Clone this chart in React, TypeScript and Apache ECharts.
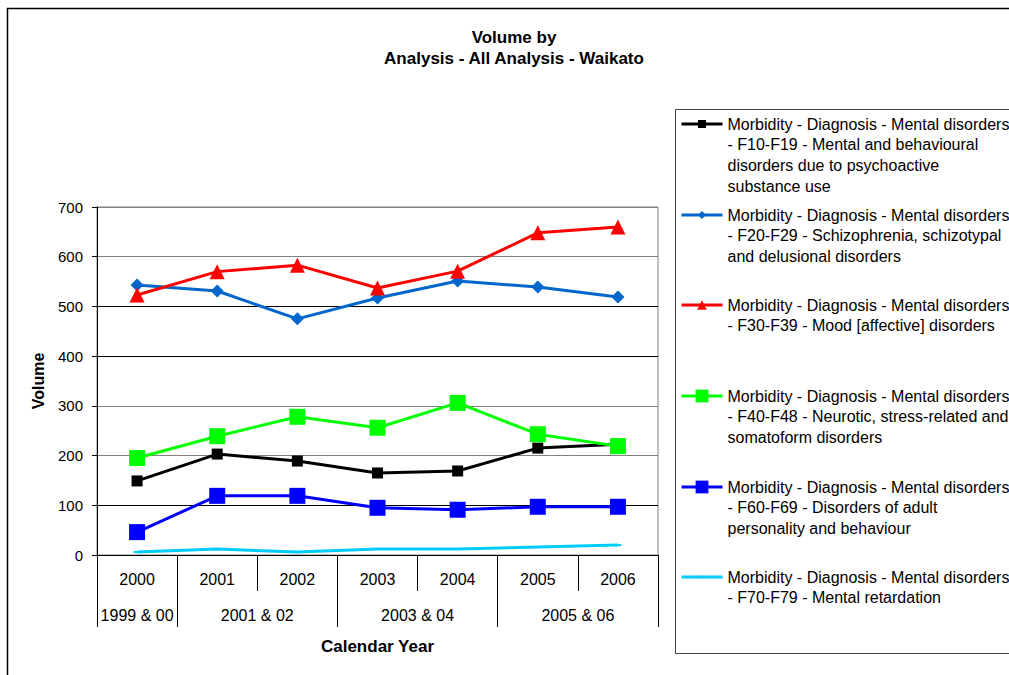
import React, { useEffect, useRef } from 'react';
import * as echarts from 'echarts';

const years = ['2000', '2001', '2002', '2003', '2004', '2005', '2006'];
const yearGroups = ['1999 & 00', '2001 & 02', '2003 & 04', '2005 & 06'];
const groupSpans = [1, 2, 2, 2];

const f10 = [149, 203, 189, 165, 169, 215, 223];
const f20 = [543, 531, 475, 517, 551, 539, 519];
const f30 = [523, 570, 583, 537, 571, 648, 660];
const f40 = [195, 239, 278, 256, 306, 243, 219];
const f60 = [46, 119, 119, 95, 91, 97, 97];
const f70 = [6, 12, 6, 12, 12, 16, 20];

const name1 = ['Morbidity - Diagnosis - Mental disorders', '- F10-F19 - Mental and behavioural', 'disorders due to psychoactive', 'substance use'];
const name2 = ['Morbidity - Diagnosis - Mental disorders', '- F20-F29 - Schizophrenia, schizotypal', 'and delusional disorders'];
const name3 = ['Morbidity - Diagnosis - Mental disorders', '- F30-F39 - Mood [affective] disorders'];
const name4 = ['Morbidity - Diagnosis - Mental disorders', '- F40-F48 - Neurotic, stress-related and', 'somatoform disorders'];
const name5 = ['Morbidity - Diagnosis - Mental disorders', '- F60-F69 - Disorders of adult', 'personality and behaviour'];
const name6 = ['Morbidity - Diagnosis - Mental disorders', '- F70-F79 - Mental retardation'];

const FONT = "'Liberation Sans', Arial, sans-serif";

export default function App() {
  const ref = useRef<HTMLDivElement>(null);
  useEffect(() => {
    if (!ref.current) return;
    const chart = echarts.init(ref.current, undefined, { renderer: 'svg' });

    // half-slot axis for group labels
    const halfData: string[] = new Array(years.length * 2 + 1).fill('');
    const tickSet = new Set<number>();
    const labelSet = new Set<number>();
    let start = 0;
    yearGroups.forEach((g, i) => {
      const w = groupSpans[i];
      tickSet.add(2 * start);
      halfData[2 * start + w] = g;
      labelSet.add(2 * start + w);
      start += w;
    });
    tickSet.add(2 * start);

    const seriesDefs = [
      { lines: name1, data: f10, color: '#000000', symbol: 'rect', size: 11, ih: 10, yc: 124 },
      { lines: name2, data: f20, color: '#0066CC', symbol: 'diamond', size: 13, ih: 10, yc: 215 },
      { lines: name3, data: f30, color: '#FF0000', symbol: 'triangle', size: 15, ih: 12, yc: 305 },
      { lines: name4, data: f40, color: '#00FF00', symbol: 'rect', size: 16, ih: 16, yc: 396 },
      { lines: name5, data: f60, color: '#0000FF', symbol: 'rect', size: 16, ih: 16, yc: 487 },
      { lines: name6, data: f70, color: '#00CCFF', symbol: 'rect', size: [7, 2], ih: 3, yc: 577 },
    ];
    const L = 20.7;

    chart.setOption({
      animation: false,
      backgroundColor: '#ffffff',
      textStyle: { fontFamily: FONT },
      title: {
        text: 'Volume by\nAnalysis - All Analysis - Waikato',
        left: 514,
        top: 27,
        textAlign: 'center',
        padding: 0,
        textStyle: { fontSize: 17, fontWeight: 'bold', lineHeight: 21, color: '#000', fontFamily: FONT },
      },
      grid: {
        left: 97, top: 207, right: 351, bottom: 120,
        show: true, borderColor: '#808080', borderWidth: 1, containLabel: false,
      },
      legend: seriesDefs.map((s) => {
        const n = s.lines.length;
        return {
          data: [s.lines.join('\n')],
          formatter: (name: string) => '\n'.repeat(n - 1) + name,
          left: 680,
          top: s.yc - ((2 * n - 1) * L) / 2,
          orient: 'vertical',
          padding: 0,
          itemGap: 0,
          itemWidth: 41,
          itemHeight: s.ih,
          selectedMode: false,
          lineStyle: { width: 3 },
          textStyle: { fontSize: 16, lineHeight: L, color: '#000', fontFamily: FONT },
        };
      }),
      xAxis: [
        {
          type: 'category',
          data: years,
          boundaryGap: true,
          position: 'bottom',
          axisLine: { show: true, lineStyle: { color: '#000', width: 1 } },
          axisTick: { show: true, length: 36, lineStyle: { color: '#000' } },
          axisLabel: { fontSize: 16, color: '#000', margin: 16, fontFamily: FONT },
          splitLine: { show: false },
          name: 'Calendar Year',
          nameLocation: 'middle',
          nameGap: 83,
          nameTextStyle: { fontSize: 17, fontWeight: 'bold', color: '#000', fontFamily: FONT },
        },
        {
          type: 'category',
          data: halfData,
          boundaryGap: false,
          position: 'bottom',
          axisLine: { show: false },
          axisTick: { show: true, length: 72, interval: (i: number) => tickSet.has(i), lineStyle: { color: '#000' } },
          axisLabel: { fontSize: 16, color: '#000', margin: 52, interval: (i: number) => labelSet.has(i), fontFamily: FONT },
          splitLine: { show: false },
        },
      ],
      yAxis: {
        type: 'value',
        min: 0,
        max: 700,
        interval: 100,
        axisLine: { show: true, lineStyle: { color: '#000', width: 1 } },
        axisTick: { show: true, length: 5, lineStyle: { color: '#000' } },
        axisLabel: { fontSize: 15, color: '#000', margin: 14, fontFamily: FONT },
        splitLine: {
          show: true,
          lineStyle: { color: ['#000', '#000', '#808080', '#808080', '#000', '#000', '#808080', '#808080'], width: 1 },
        },
        name: 'Volume',
        nameLocation: 'middle',
        nameGap: 51,
        nameTextStyle: { fontSize: 16, fontWeight: 'bold', color: '#000', fontFamily: FONT },
      },
      series: seriesDefs.map((s) => ({
        type: 'line',
        name: s.lines.join('\n'),
        data: s.data,
        xAxisIndex: 0,
        symbol: s.symbol,
        symbolSize: s.size,
        showAllSymbol: true,
        lineStyle: { color: s.color, width: 3 },
        itemStyle: { color: s.color },
        emphasis: { disabled: true },
      })),
      graphic: [
        { type: 'rect', silent: true, shape: { x: 7.5, y: 8.5, width: 1100, height: 1000 }, style: { fill: 'none', stroke: '#000', lineWidth: 1.5 } },
        { type: 'rect', silent: true, shape: { x: 675.5, y: 109.5, width: 500, height: 544 }, style: { fill: 'none', stroke: '#404040', lineWidth: 1 } },
      ],
    });
    return () => chart.dispose();
  }, []);
  return <div ref={ref} style={{ position: 'absolute', left: 0, top: 0, width: 1009, height: 675 }} />;
}
